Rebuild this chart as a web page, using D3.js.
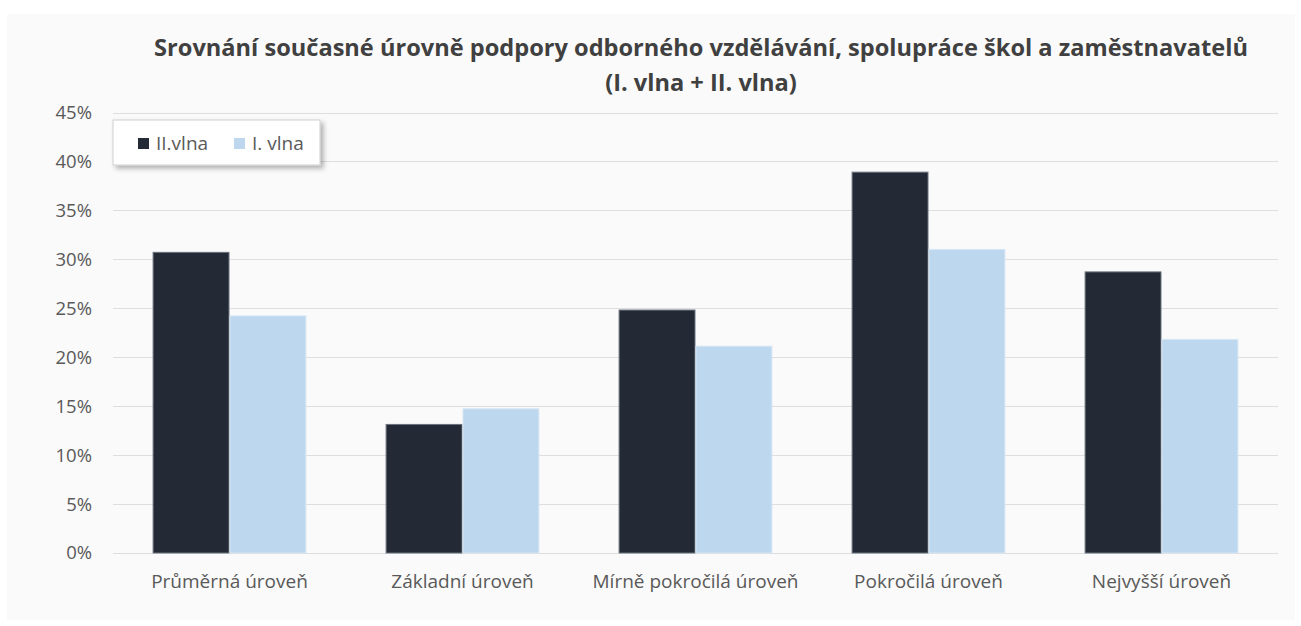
<!DOCTYPE html>
<html><head><meta charset="utf-8">
<script src="https://cdn.jsdelivr.net/npm/d3@7"></script>
<style>body{margin:0;background:#fff;}svg{display:block;}</style>
</head><body>
<svg id="c" width="1301" height="626"></svg>
<script>
const categories = ["Průměrná úroveň","Základní úroveň","Mírně pokročilá úroveň","Pokročilá úroveň","Nejvyšší úroveň"];
const seriesNames = ["II.vlna","I. vlna"];
const wave2 = [30.8, 13.2, 24.9, 39.0, 28.8];
const wave1 = [24.3, 14.8, 21.2, 31.1, 21.9];
const yTicks = [0,5,10,15,20,25,30,35,40,45];
const titleLines = ["Srovnání současné úrovně podpory odborného vzdělávání, spolupráce škol a zaměstnavatelů","(I. vlna + II. vlna)"];
const colors = ["#232a35","#bdd7ee"];
const strokes = ["#6b7280","#d6e6f4"];

const svg = d3.select("#c");
const font = "'Open Sans', sans-serif";
svg.append("rect").attr("x",7).attr("y",14).attr("width",1288).attr("height",606).attr("fill","#fafafa");

const m = {l:113, r:1278, t:113, b:553};
const x = d3.scaleBand().domain(categories).range([m.l,m.r]).paddingInner(0.34).paddingOuter(0.17);
const xs = d3.scaleBand().domain(seriesNames).range([0,x.bandwidth()]);
const y = d3.scaleLinear().domain([0,45]).range([m.b,m.t]);

// grid
svg.append("g").selectAll("line").data(yTicks).join("line")
  .attr("x1",m.l).attr("x2",m.r).attr("y1",d=>y(d)).attr("y2",d=>y(d))
  .attr("stroke","#dedede").attr("stroke-width",1).attr("shape-rendering","crispEdges");

// y axis
const ya = svg.append("g").attr("transform",`translate(${m.l},0)`)
  .call(d3.axisLeft(y).tickValues(yTicks).tickFormat(d=>d+"%").tickSize(0).tickPadding(21));
ya.select(".domain").remove();
ya.selectAll("text").attr("font-family",font).attr("font-size",18.5).attr("fill","#595959");

// x axis
const xa = svg.append("g").attr("transform",`translate(0,${m.b})`)
  .call(d3.axisBottom(x).tickSize(0).tickPadding(22));
xa.select(".domain").remove();
xa.selectAll("text").attr("font-family",font).attr("font-size",19).attr("fill","#595959");

// bars
const series = [wave2, wave1];
series.forEach((vals,si)=>{
  svg.append("g").selectAll("rect").data(vals).join("rect")
    .attr("x",(d,i)=>x(categories[i])+xs(seriesNames[si])+0.5)
    .attr("y",d=>y(d)+0.5)
    .attr("width",xs.bandwidth()-1)
    .attr("height",d=>y(0)-y(d)-0.5)
    .attr("fill",colors[si]).attr("stroke",strokes[si]).attr("stroke-width",1);
});

// title
const t = svg.append("text").attr("text-anchor","middle").attr("font-family",font)
  .attr("font-weight","bold").attr("font-size",23.6).attr("fill","#404040");
titleLines.forEach((s,i)=>t.append("tspan").attr("x",701).attr("y",56+i*35).text(s));

// legend
const defs = svg.append("defs");
const f = defs.append("filter").attr("id","sh").attr("x","-10%").attr("y","-20%").attr("width","130%").attr("height","160%");
f.append("feDropShadow").attr("dx",3).attr("dy",3).attr("stdDeviation",2.5).attr("flood-color","#000").attr("flood-opacity",0.3);
const lg = svg.append("g");
lg.append("rect").attr("x",113).attr("y",120).attr("width",207).attr("height",45)
  .attr("fill","#fff").attr("stroke","#cfcfcf").attr("filter","url(#sh)");
const lx = [138, 234];
seriesNames.forEach((n,i)=>{
  lg.append("rect").attr("x",lx[i]).attr("y",138).attr("width",11).attr("height",11).attr("fill",colors[i]);
  lg.append("text").attr("x",lx[i]+18).attr("y",150).attr("font-family",font).attr("font-size",19)
    .attr("fill","#595959").text(n);
});
</script>
</body></html>
